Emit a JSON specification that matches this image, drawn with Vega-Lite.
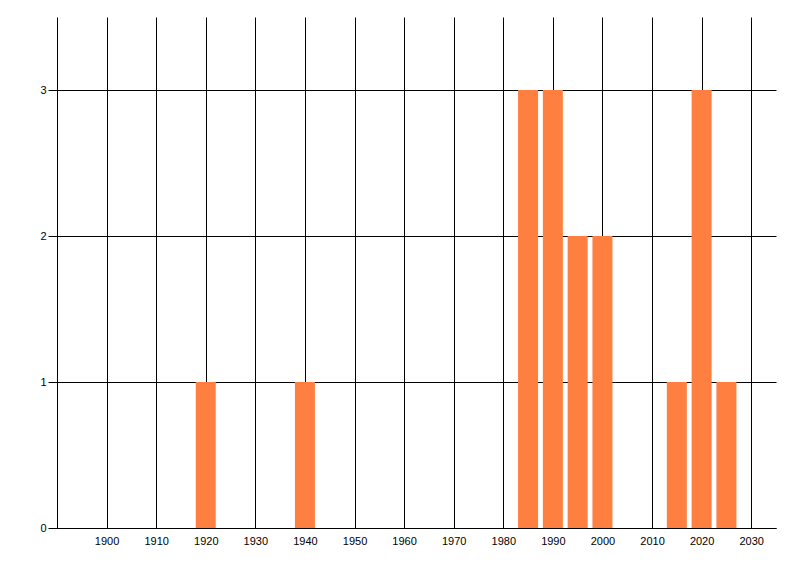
{
  "$schema": "https://vega.github.io/schema/vega-lite/v6.json",
  "width": 719,
  "height": 511,
  "autosize": {"type": "none"},
  "padding": {"left": 57, "top": 17, "right": 24, "bottom": 48},
  "background": "white",
  "data": {"values": [
    {"year": 1920, "count": 1},
    {"year": 1940, "count": 1},
    {"year": 1985, "count": 3},
    {"year": 1990, "count": 3},
    {"year": 1995, "count": 2},
    {"year": 2000, "count": 2},
    {"year": 2015, "count": 1},
    {"year": 2020, "count": 3},
    {"year": 2025, "count": 1}
  ]},
  "mark": {"type": "bar", "size": 20, "color": "#FF7F41"},
  "encoding": {
    "x": {
      "field": "year", "type": "quantitative",
      "scale": {"domain": [1890, 2035], "nice": false, "zero": false, "padding": 0},
      "axis": {
        "title": null,
        "values": [1900,1910,1920,1930,1940,1950,1960,1970,1980,1990,2000,2010,2020,2030],
        "format": "d",
        "ticks": false,
        "labelPadding": 7,
        "labelFont": "Liberation Sans",
        "labelFontSize": 11,
        "labelColor": "#000000",
        "domainColor": "#000000",
        "domainWidth": 1,
        "gridColor": "#000000",
        "gridOpacity": 1,
        "gridWidth": 1,
        "labelFlush": false,
        "labelOverlap": false
      }
    },
    "y": {
      "field": "count", "type": "quantitative",
      "scale": {"domain": [0, 3.5], "nice": false},
      "axis": {
        "title": null,
        "values": [0, 1, 2, 3],
        "format": "d",
        "tickSize": 9,
        "tickColor": "#000000",
        "labelPadding": 2,
        "labelFont": "Liberation Sans",
        "labelFontSize": 11,
        "labelColor": "#000000",
        "domainColor": "#000000",
        "gridColor": "#000000",
        "gridOpacity": 1,
        "gridWidth": 1,
        "labelFlush": false
      }
    }
  },
  "config": {"view": {"stroke": null}}
}
